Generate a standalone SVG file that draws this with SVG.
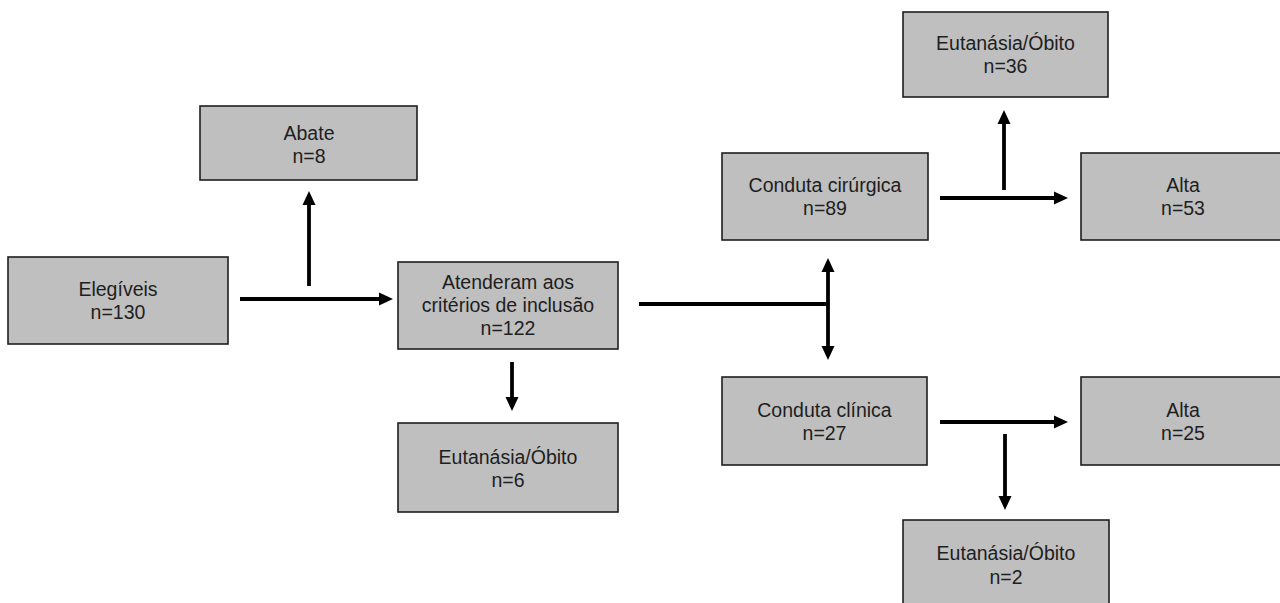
<svg xmlns="http://www.w3.org/2000/svg" width="1280" height="603" viewBox="0 0 1280 603">
<defs>
<style>
.box{fill:#bfbfbf;stroke:#1e1e1e;stroke-width:1.6}
.t{font-family:"Liberation Sans",Arial,sans-serif;font-size:19.5px;fill:#1e1e1e;text-anchor:middle}
.c{fill:none;stroke:#000;stroke-width:3.8}
</style>
<marker id="ah" viewBox="0 0 14 14" markerUnits="userSpaceOnUse" markerWidth="14" markerHeight="14" refX="10" refY="7" orient="auto-start-reverse">
<path d="M0,0.5 L14,7 L0,13.5 z" fill="#000"/>
</marker>
</defs>
<rect width="1280" height="603" fill="#fff"/>
<g id="connectors">
<line class="c" x1="240" y1="299" x2="389" y2="299" marker-end="url(#ah)"/>
<line class="c" x1="309" y1="286" x2="309" y2="195" marker-end="url(#ah)"/>
<line class="c" x1="512" y1="362" x2="512" y2="407" marker-end="url(#ah)"/>
<line class="c" x1="639" y1="304" x2="828" y2="304"/>
<line class="c" x1="828" y1="262" x2="828" y2="356" marker-start="url(#ah)" marker-end="url(#ah)"/>
<line class="c" x1="940" y1="198" x2="1064" y2="198" marker-end="url(#ah)"/>
<line class="c" x1="1004" y1="190" x2="1004" y2="114" marker-end="url(#ah)"/>
<line class="c" x1="940" y1="422" x2="1064" y2="422" marker-end="url(#ah)"/>
<line class="c" x1="1005" y1="434" x2="1005" y2="506" marker-end="url(#ah)"/>
</g>
<g id="elegiveis">
<rect class="box" x="8" y="257" width="220" height="87"/>
<text class="t" x="118" y="296">Elegíveis</text>
<text class="t" x="118" y="319">n=130</text>
</g>
<g id="abate">
<rect class="box" x="200" y="106" width="217" height="74"/>
<text class="t" x="309" y="140">Abate</text>
<text class="t" x="309" y="163">n=8</text>
</g>
<g id="atenderam">
<rect class="box" x="398" y="262" width="220" height="87"/>
<text class="t" x="508" y="289">Atenderam aos</text>
<text class="t" x="508" y="312">critérios de inclusão</text>
<text class="t" x="508" y="335">n=122</text>
</g>
<g id="eutanasia6">
<rect class="box" x="398" y="423" width="220" height="89"/>
<text class="t" x="508" y="464">Eutanásia/Óbito</text>
<text class="t" x="508" y="487">n=6</text>
</g>
<g id="cirurgica">
<rect class="box" x="722" y="153" width="206" height="87"/>
<text class="t" x="825" y="192">Conduta cirúrgica</text>
<text class="t" x="825" y="215">n=89</text>
</g>
<g id="eutanasia36">
<rect class="box" x="903" y="12" width="205" height="85"/>
<text class="t" x="1005.5" y="50">Eutanásia/Óbito</text>
<text class="t" x="1005.5" y="73">n=36</text>
</g>
<g id="alta53">
<rect class="box" x="1081" y="153" width="210" height="87"/>
<text class="t" x="1183" y="192">Alta</text>
<text class="t" x="1183" y="215">n=53</text>
</g>
<g id="clinica">
<rect class="box" x="722" y="377" width="205" height="88"/>
<text class="t" x="824.5" y="417">Conduta clínica</text>
<text class="t" x="824.5" y="440">n=27</text>
</g>
<g id="alta25">
<rect class="box" x="1081" y="377" width="210" height="88"/>
<text class="t" x="1183" y="417">Alta</text>
<text class="t" x="1183" y="440">n=25</text>
</g>
<g id="eutanasia2">
<rect class="box" x="903" y="520" width="206" height="100"/>
<text class="t" x="1006" y="560">Eutanásia/Óbito</text>
<text class="t" x="1006" y="584">n=2</text>
</g>
</svg>
